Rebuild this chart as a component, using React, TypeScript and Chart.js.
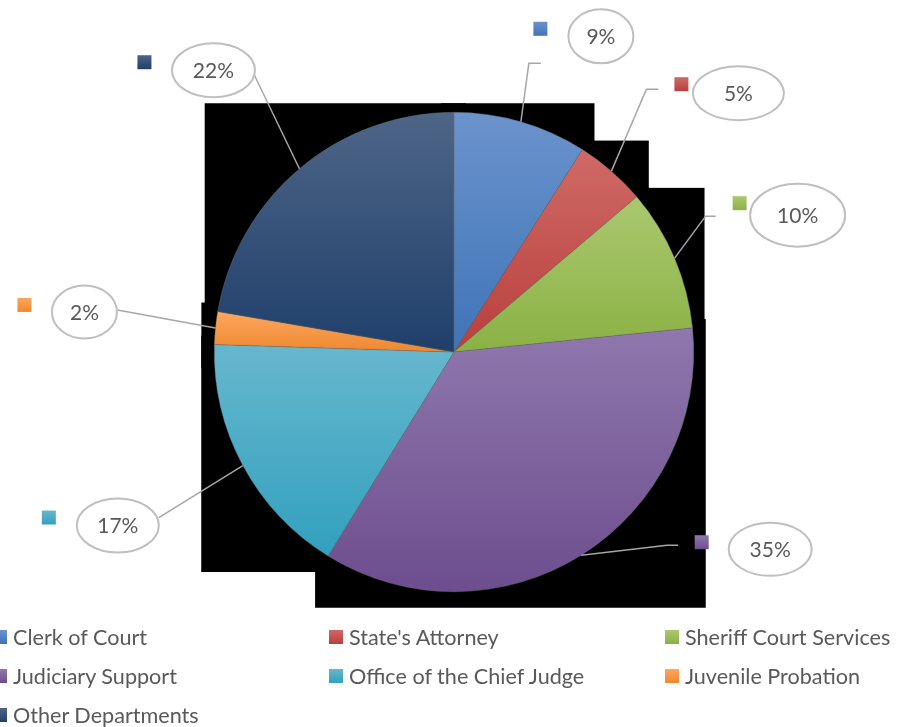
import React, { useEffect, useRef } from "react";
import { Chart, registerables } from "chart.js";

Chart.register(...registerables);

// ---- data ----
const categories = [
  "Clerk of Court",
  "State's Attorney",
  "Sheriff Court Services",
  "Judiciary Support",
  "Office of the Chief Judge",
  "Juvenile Probation",
  "Other Departments",
];
const shares = [9.0, 4.8, 9.6, 35.4, 16.7, 2.2, 22.3];

// ---- styles ----
const topColors = ["#6b93cc", "#cf6a66", "#abc86f", "#8f78ad", "#67b7ce", "#fba75e", "#4e6587"];
const bottomColors = ["#3f74b8", "#b93f3c", "#8ab145", "#6d4d8e", "#32a0be", "#ef8830", "#1f3f6b"];

// label layout relative to the slice's outer mid point (callout offsets)
const labelLayout = [
  { dx: 80, dy: -85.5, w: 65, h: 54, path: [[-72, 27], [-60, 27]], key: [-60.5, -7.5] },
  { dx: 127, dy: -78, w: 91, h: 54, path: [[-92, -4], [-80, -4]], key: [-57, -9] },
  { dx: 123, dy: -43, w: 95, h: 63, path: [[-92, 1], [-82, 1]], key: [-58, -12] },
  { dx: 189, dy: -6, w: 83, h: 53, path: [[-103, -4], [-92, -4]], key: [-68.5, -7] },
  { dx: -125, dy: 60, w: 82, h: 54, path: [[41, -8]], key: [-69, -8] },
  { dx: -131, dy: -16, w: 65, h: 53, path: [[33, -2]], key: [-60, -7] },
  { dx: -86, dy: -98.5, w: 83, h: 54, path: [[41, 5]], key: [-69, -8] },
];

const legendColumns = [-7, 329, 665];
const legendRows = [637, 676, 715];
const FONT = "Lato, 'Open Sans', sans-serif";

function arcBox(el: any) {
  const p = el.getProps(["x", "y", "startAngle", "endAngle", "outerRadius"], true);
  const r = p.outerRadius;
  const pts: number[][] = [[p.x, p.y]];
  pts.push([p.x + r * Math.cos(p.startAngle), p.y + r * Math.sin(p.startAngle)]);
  pts.push([p.x + r * Math.cos(p.endAngle), p.y + r * Math.sin(p.endAngle)]);
  const q = Math.PI / 2;
  for (let k = Math.ceil(p.startAngle / q); k <= Math.floor(p.endAngle / q); k++) {
    pts.push([p.x + r * Math.cos(k * q), p.y + r * Math.sin(k * q)]);
  }
  const xs = pts.map((a) => a[0]);
  const ys = pts.map((a) => a[1]);
  return {
    left: Math.min(...xs),
    right: Math.max(...xs),
    top: Math.min(...ys),
    bottom: Math.max(...ys),
  };
}

const excelPiePlugin = {
  id: "excelPie",
  beforeDatasetsDraw(chart: any) {
    const ctx = chart.ctx;
    const meta = chart.getDatasetMeta(0);
    ctx.save();
    meta.data.forEach((el: any, i: number) => {
      const b = arcBox(el);
      ctx.fillStyle = "#000";
      ctx.fillRect(b.left - 13, b.top - 9, b.right - b.left + 25, b.bottom - b.top + 25);
      const g = ctx.createLinearGradient(0, b.top, 0, b.bottom);
      g.addColorStop(0, topColors[i]);
      g.addColorStop(1, bottomColors[i]);
      el.options = { ...el.options, backgroundColor: g };
    });
    ctx.restore();
  },
  afterDatasetsDraw(chart: any) {
    const ctx = chart.ctx;
    const meta = chart.getDatasetMeta(0);
    const total = shares.reduce((a, b) => a + b, 0);
    ctx.save();
    meta.data.forEach((el: any, i: number) => {
      const p = el.getProps(["x", "y", "startAngle", "endAngle", "outerRadius"], true);
      const mid = (p.startAngle + p.endAngle) / 2;
      const ax = p.x + p.outerRadius * Math.cos(mid);
      const ay = p.y + p.outerRadius * Math.sin(mid);
      const L = labelLayout[i];
      const cx = ax + L.dx;
      const cy = ay + L.dy;
      // leader line
      ctx.strokeStyle = "#a6a6a6";
      ctx.lineWidth = 1.5;
      ctx.beginPath();
      ctx.moveTo(ax, ay);
      L.path.forEach(([px, py]) => ctx.lineTo(cx + px, cy + py));
      ctx.stroke();
      // key square
      const kx = cx + L.key[0] - 7;
      const ky = cy + L.key[1] - 7;
      const kg = ctx.createLinearGradient(0, ky, 0, ky + 14);
      kg.addColorStop(0, topColors[i]);
      kg.addColorStop(1, bottomColors[i]);
      ctx.fillStyle = kg;
      ctx.fillRect(kx, ky, 14, 14);
      // ellipse
      ctx.beginPath();
      ctx.ellipse(cx, cy, L.w / 2, L.h / 2, 0, 0, Math.PI * 2);
      ctx.fillStyle = "#ffffff";
      ctx.fill();
      ctx.strokeStyle = "#bfbfbf";
      ctx.lineWidth = 2;
      ctx.stroke();
      // text
      ctx.fillStyle = "#595959";
      ctx.font = `21px ${FONT}`;
      ctx.textAlign = "center";
      ctx.textBaseline = "middle";
      ctx.fillText(Math.round((shares[i] / total) * 100) + "%", cx, cy + 1);
    });
    ctx.restore();
  },
};

export default function App() {
  const canvasRef = useRef<HTMLCanvasElement | null>(null);

  useEffect(() => {
    let chart: Chart | null = null;
    let cancelled = false;
    const make = () => {
      if (cancelled || !canvasRef.current) return;
      chart = new Chart(canvasRef.current, {
        type: "pie",
        data: {
          labels: categories,
          datasets: [
            {
              data: shares,
              backgroundColor: bottomColors,
              borderColor: "rgba(110,110,110,0.8)",
              borderWidth: 0.5,
            },
          ],
        },
        options: {
          responsive: false,
          maintainAspectRatio: false,
          animation: false,
          devicePixelRatio: 1,
          layout: { padding: { left: 214, right: 211, top: 112, bottom: 135 } },
          plugins: {
            legend: { display: false },
            tooltip: { enabled: false },
          },
        },
        plugins: [excelPiePlugin],
      });
    };
    const fontsReady = (document as any).fonts
      ? (document as any).fonts.load(`20px Lato`).catch(() => null)
      : Promise.resolve();
    fontsReady.then(make);
    return () => {
      cancelled = true;
      if (chart) chart.destroy();
    };
  }, []);

  return (
    <div style={{ position: "absolute", left: 0, top: 0, width: 905, height: 727, background: "#fff", overflow: "hidden" }}>
      <canvas ref={canvasRef} width={905} height={727} style={{ position: "absolute", left: 0, top: 0, display: "block" }} />
      {categories.map((name, i) => {
        const col = legendColumns[i % 3];
        const row = legendRows[Math.floor(i / 3)];
        return (
          <div
            key={name}
            style={{
              position: "absolute",
              left: col,
              top: row - 14,
              height: 28,
              display: "flex",
              alignItems: "center",
              whiteSpace: "nowrap",
              fontFamily: FONT,
              fontSize: 21.6,
              color: "#595959",
            }}
          >
            <span
              style={{
                display: "inline-block",
                width: 14,
                height: 14,
                marginRight: 6,
                background: `linear-gradient(${topColors[i]}, ${bottomColors[i]})`,
              }}
            />
            <span>{name}</span>
          </div>
        );
      })}
    </div>
  );
}
